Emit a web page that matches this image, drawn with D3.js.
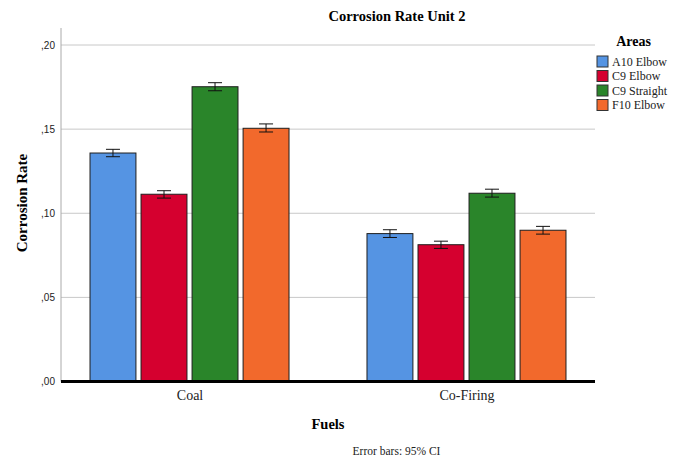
<!DOCTYPE html>
<html><head><meta charset="utf-8">
<script src="https://cdn.jsdelivr.net/npm/d3@7"></script>
<style>body{margin:0;background:#fff}svg{display:block}</style>
</head><body><svg id="c" width="680" height="459"></svg>
<script>
const fuels = ["Coal", "Co-Firing"];
const areas = ["A10 Elbow", "C9 Elbow", "C9 Straight", "F10 Elbow"];
const colors = ["#5594e3", "#d5002f", "#2a852a", "#f2692c"];
const meanCoal = [0.1358, 0.1113, 0.1752, 0.1505];
const meanCoFiring = [0.0879, 0.0813, 0.1119, 0.0899];
const lowCoal = [0.1336, 0.1090, 0.1728, 0.1483];
const highCoal = [0.1380, 0.1134, 0.1776, 0.1531];
const lowCoFiring = [0.0856, 0.0791, 0.1096, 0.0876];
const highCoFiring = [0.0902, 0.0834, 0.1143, 0.0922];
const yTicks = [0, 0.05, 0.10, 0.15, 0.20];
const yTickLabels = [",00", ",05", ",10", ",15", ",20"];

const means = [meanCoal, meanCoFiring];
const lows = [lowCoal, lowCoFiring];
const highs = [highCoal, highCoFiring];

const svg = d3.select("#c");
const L = 61, R = 595, T = 28, B = 381.5;
const y = d3.scaleLinear().domain([0, 0.2]).range([B, 45]);
const x0 = d3.scalePoint().domain(fuels).range([L, R]).padding(0.464);
const x1 = d3.scaleBand().domain(areas).range([-99.5, 99.5]).paddingInner(0.1).paddingOuter(0);
const serif = "'Liberation Serif', 'DejaVu Serif', serif";

// gridlines
svg.append("g").selectAll("line").data(yTicks.slice(1)).join("line")
  .attr("x1", L).attr("x2", R).attr("y1", d => y(d)).attr("y2", d => y(d))
  .attr("stroke", "#c8c8c8").attr("stroke-width", 1);

// y axis
const yAxis = d3.axisLeft(y).tickValues(yTicks).tickFormat((d, i) => yTickLabels[i]).tickSize(0).tickPadding(6);
const ya = svg.append("g").attr("transform", `translate(${L},0)`).call(yAxis);
ya.select(".domain").remove();
ya.selectAll("text").attr("font-family", "'Liberation Sans', Arial, sans-serif").attr("font-size", 10).attr("fill", "#222");
svg.append("line").attr("x1", L).attr("x2", L).attr("y1", T).attr("y2", B).attr("stroke", "#aaa").attr("stroke-width", 1);

// bars
fuels.forEach((f, fi) => {
  const g = svg.append("g").attr("transform", `translate(${x0(f)},0)`);
  g.selectAll("rect").data(areas).join("rect")
    .attr("x", d => x1(d)).attr("width", x1.bandwidth())
    .attr("y", (d, i) => y(means[fi][i])).attr("height", (d, i) => B - y(means[fi][i]))
    .attr("fill", (d, i) => colors[i]).attr("stroke", "#1e1e1e").attr("stroke-width", 1);
  const eb = g.selectAll("g.eb").data(areas).join("g").attr("class", "eb");
  const cx = d => x1(d) + x1.bandwidth() / 2;
  eb.append("line").attr("x1", cx).attr("x2", cx)
    .attr("y1", (d, i) => y(lows[fi][i])).attr("y2", (d, i) => y(highs[fi][i]))
    .attr("stroke", "#111");
  eb.append("line").attr("x1", d => cx(d) - 7).attr("x2", d => cx(d) + 7)
    .attr("y1", (d, i) => y(lows[fi][i])).attr("y2", (d, i) => y(lows[fi][i])).attr("stroke", "#111");
  eb.append("line").attr("x1", d => cx(d) - 7).attr("x2", d => cx(d) + 7)
    .attr("y1", (d, i) => y(highs[fi][i])).attr("y2", (d, i) => y(highs[fi][i])).attr("stroke", "#111");
});

// baseline
svg.append("line").attr("x1", L).attr("x2", R).attr("y1", B).attr("y2", B).attr("stroke", "#000").attr("stroke-width", 3);

// x axis labels
const xAxis = d3.axisBottom(x0).tickSize(0).tickPadding(9);
const xa = svg.append("g").attr("transform", `translate(0,${B})`).call(xAxis);
xa.select(".domain").remove();
xa.selectAll("text").attr("font-family", serif).attr("font-size", 14).attr("fill", "#222");

// titles
svg.append("text").attr("x", 397).attr("y", 21).attr("text-anchor", "middle")
  .attr("font-family", serif).attr("font-weight", "bold").attr("font-size", 14.5).text("Corrosion Rate Unit 2");
svg.append("text").attr("transform", `translate(27,203) rotate(-90)`).attr("text-anchor", "middle")
  .attr("font-family", serif).attr("font-weight", "bold").attr("font-size", 15).text("Corrosion Rate");
svg.append("text").attr("x", 328).attr("y", 429).attr("text-anchor", "middle")
  .attr("font-family", serif).attr("font-weight", "bold").attr("font-size", 14.5).text("Fuels");
svg.append("text").attr("x", 396.5).attr("y", 455).attr("text-anchor", "middle")
  .attr("font-family", serif).attr("font-size", 11.5).attr("fill", "#222").text("Error bars: 95% CI");

// legend
const lg = svg.append("g");
lg.append("text").attr("x", 633.5).attr("y", 46).attr("text-anchor", "middle")
  .attr("font-family", serif).attr("font-weight", "bold").attr("font-size", 14).text("Areas");
const li = lg.selectAll("g.li").data(areas).join("g").attr("class", "li")
  .attr("transform", (d, i) => `translate(597,${56 + i * 14.5})`);
li.append("rect").attr("width", 11).attr("height", 11).attr("fill", (d, i) => colors[i]).attr("stroke", "#333").attr("stroke-width", 1);
li.append("text").attr("x", 15).attr("y", 9.5).attr("font-family", serif).attr("font-size", 12).attr("fill", "#222").text(d => d);
</script></body></html>
